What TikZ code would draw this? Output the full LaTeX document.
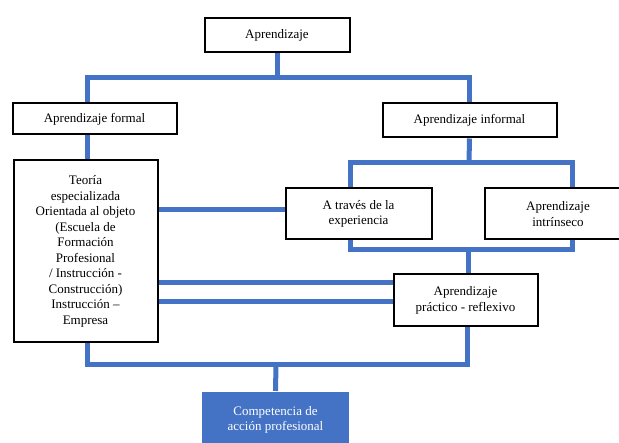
\documentclass[tikz,border=0pt]{standalone}
\usepackage{fontspec}
\setmainfont{Liberation Serif}
\usetikzlibrary{positioning}
\definecolor{linkblue}{HTML}{4472C4}
\tikzset{
	box/.style={draw=black, line width=2pt, fill=white, align=center, inner sep=2pt,
		font=\fontsize{13}{15.5}\selectfont},
	link/.style={draw=linkblue, line width=5pt},
}
\begin{document}
\begin{tikzpicture}[x=1pt, y=-1pt]
		\useasboundingbox (0,0) rectangle (619,443);
		% Boxes
		\node[box, minimum width=145pt, minimum height=34pt] (top) at (277,35) {Aprendizaje};
		\node[box, minimum width=164pt, minimum height=31pt] (formal) at (94.5,119) {Aprendizaje formal};
		\node[box, minimum width=174pt, minimum height=34pt] (informal) at (469.5,120.5) {Aprendizaje informal};
		\node[box, minimum width=144pt, minimum height=182pt] (teoria) at (85.5,251.5) {Teoría\\especializada\\Orientada al objeto\\(Escuela de\\Formación\\Profesional\\/ Instrucción -\\Construcción)\\Instrucción --\\Empresa};
		\node[box, minimum width=146pt, minimum height=51pt] (traves) at (358.5,214) {A través de la\\experiencia};
		\node[box, minimum width=146pt, minimum height=51pt] (intrin) at (558,214) {Aprendizaje\\intrínseco};
		\node[box, minimum width=144pt, minimum height=52pt] (practico) at (465.5,300.5) {Aprendizaje\\práctico - reflexivo};
		\node[box, draw=none, fill=linkblue, text=white, minimum width=147pt, minimum height=56pt] (compet) at (275.5,420) {Competencia de\\acción profesional};
		% Connectors
		\coordinate (s1) at (277,78);
		\coordinate (s2) at (469,163);
		\coordinate (s3) at (468,250);
		\coordinate (s4) at (276,365);
		\draw[link] (top.south) -- (s1);
		\draw[link] ([xshift=-7.5pt]formal.north) |- (s1) -| (informal.north);
		\draw[link] ([xshift=-7.5pt]formal.south) -- ([xshift=1.5pt]teoria.north);
		\draw[link] (informal.south) -- (s2);
		\draw[link] ([xshift=-8.5pt]traves.north) |- (s2) -| ([xshift=14pt]intrin.north);
		\draw[link] ([xshift=-8.5pt]traves.south) |- (s3) -| ([xshift=14pt]intrin.south);
		\draw[link] (s3) -- (s3 |- practico.north);
		\draw[link] ([yshift=4pt]traves.west) -- ([yshift=4pt]traves.west -| teoria.east);
		\draw[link] ([yshift=17.5pt]practico.west) -- ([yshift=17.5pt]practico.west -| teoria.east);
		\draw[link] ([yshift=-1.5pt]practico.west) -- ([yshift=-1.5pt]practico.west -| teoria.east);
		\draw[link] ([xshift=1.5pt]teoria.south) |- (s4) -| ([xshift=1.5pt]practico.south);
		\draw[link] (s4) -- (compet.north);
	\end{tikzpicture}
\end{document}
